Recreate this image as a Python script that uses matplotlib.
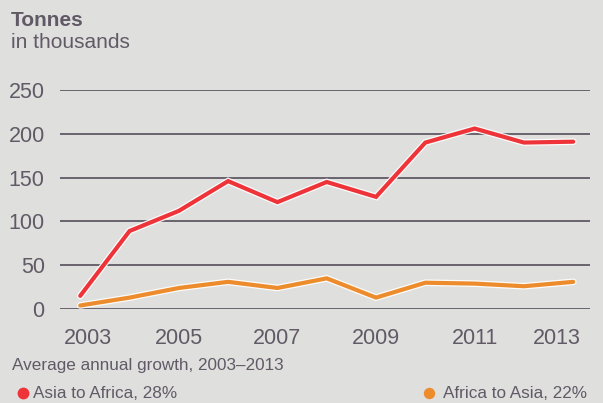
import matplotlib
matplotlib.use("Agg")
import matplotlib.pyplot as plt
import matplotlib.patheffects as pe
from matplotlib.transforms import ScaledTranslation

years = [2003, 2004, 2005, 2006, 2007, 2008, 2009, 2010, 2011, 2012, 2013]
asia_to_africa = [15, 89, 112, 146, 122, 145, 128, 190, 206, 190, 191]
africa_to_asia = [4, 13, 24, 31, 24, 35, 13, 30, 29, 26, 31]
x_ticks = [2003, 2005, 2007, 2009, 2011, 2013]
y_ticks = [0, 50, 100, 150, 200, 250]
series_labels = ["Asia to Africa, 28%", "Africa to Asia, 22%"]

BG = "#dfdfdd"
TXT = "#615a66"
GRID = "#605a66"
RED = "#ee3439"
ORANGE = "#ec8c2c"

plt.rcParams['font.family'] = ['Liberation Sans', 'DejaVu Sans']

fig = plt.figure(figsize=(6.03, 4.03), dpi=100, facecolor=BG)
W, H = 603, 403
ax = fig.add_axes([60 / W, (H - 309) / H, (590 - 60) / W, (309 - 90) / H])
ax.set_facecolor(BG)
ax.set_xlim(2002.59, 2013.34)
ax.set_ylim(0, 250)

for s in ax.spines.values():
    s.set_visible(False)
ax.set_yticks(y_ticks)
ax.set_xticks(x_ticks)
ax.yaxis.grid(True, color=GRID, linewidth=1.3)
ax.set_axisbelow(True)
ax.tick_params(axis='both', length=0, colors=TXT, labelsize=15.5)
ax.tick_params(axis='y', pad=11)
ax.tick_params(axis='x', pad=14)

outline = [pe.Stroke(linewidth=4.8, foreground='white', alpha=0.9), pe.Normal()]
ax.plot(years, africa_to_asia, color=ORANGE, lw=3.0, solid_capstyle='round',
        solid_joinstyle='miter', clip_on=False, path_effects=outline, zorder=3)
ax.plot(years, asia_to_africa, color=RED, lw=3.0, solid_capstyle='round',
        solid_joinstyle='miter', clip_on=False, path_effects=outline, zorder=4)

# shift end labels as in reference
labels = ax.get_xticklabels()
labels[0].set_transform(labels[0].get_transform() + ScaledTranslation(8 / 100, 0, fig.dpi_scale_trans))
labels[-1].set_transform(labels[-1].get_transform() + ScaledTranslation(-16 / 100, 0, fig.dpi_scale_trans))

# titles
fig.text(11 / W, 1 - 26 / H, "Tonnes", fontsize=15, fontweight='bold', color=TXT, va='baseline', ha='left')
fig.text(11 / W, 1 - 48 / H, "in thousands", fontsize=15, color=TXT, va='baseline', ha='left')

# legend / notes
fig.text(12 / W, 1 - 370 / H, "Average annual growth, 2003\u20132013", fontsize=12.3, color=TXT,
         va='baseline', ha='left')
fig.text(33 / W, 1 - 398.5 / H, series_labels[0], fontsize=12.3, color=TXT, va='baseline', ha='left')
fig.text(443 / W, 1 - 398.5 / H, series_labels[1], fontsize=12.3, color=TXT, va='baseline', ha='left')
fig.add_artist(plt.Line2D([22.7 / W], [1 - 392.7 / H], marker='o', markersize=8.5, color=RED,
                          markeredgewidth=0, transform=fig.transFigure))
fig.add_artist(plt.Line2D([429 / W], [1 - 392.7 / H], marker='o', markersize=8.2, color=ORANGE,
                          markeredgewidth=0, transform=fig.transFigure))

fig.savefig("out.png", dpi=100, facecolor=BG)
